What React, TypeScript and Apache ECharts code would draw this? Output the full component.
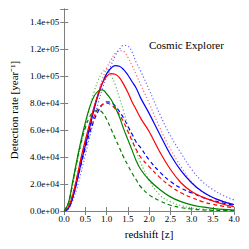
import React, { useEffect, useRef } from "react";
import * as echarts from "echarts";

const redshift = [0, 0.1, 0.2, 0.3, 0.4, 0.5, 0.6, 0.7, 0.8, 0.9, 1.0, 1.1, 1.2, 1.3, 1.4, 1.5, 1.6, 1.7, 1.8, 2.0, 2.25, 2.5, 2.75, 3.0, 3.25, 3.5, 3.75, 4.0];

const blueSolid = [0, 2000, 10000, 22000, 36000, 49000, 62000, 75000, 86000, 95000, 102000, 106000, 108000, 107500, 105000, 101000, 96000, 91000, 84000, 72500, 57000, 42000, 30000, 21000, 14400, 10000, 7000, 4800];
const blueDashed = [0, 2000, 10000, 22000, 35000, 47000, 58000, 67000, 74000, 79000, 81000, 80500, 78000, 74000, 69000, 63000, 57000, 51000, 47000, 38000, 29000, 22000, 17000, 13500, 10200, 7800, 5800, 4200];
const blueDotted = [0, 1500, 8000, 17000, 29000, 42000, 55000, 68000, 80000, 91000, 100000, 108000, 115000, 120000, 123000, 122500, 118000, 110000, 104000, 90000, 72000, 56000, 43000, 31000, 22000, 16000, 11500, 8200];

const redSolid = [0, 3000, 12000, 25000, 40000, 53000, 65000, 77000, 87000, 95000, 100000, 102000, 101500, 99000, 94000, 88000, 81000, 75000, 69000, 59000, 44000, 31000, 21000, 14500, 10500, 7500, 5000, 3300];
const redDashed = [0, 3000, 12000, 25000, 39000, 51000, 61000, 70000, 76000, 79000, 80000, 79000, 76000, 71500, 66000, 59000, 52000, 45500, 40000, 33000, 25000, 18500, 13500, 10000, 7000, 5000, 3500, 2500];
const redDotted = [0, 2500, 11000, 23000, 37000, 51000, 64000, 77000, 88000, 98000, 106000, 112000, 117000, 119000, 118500, 114000, 108000, 101000, 94000, 80000, 62000, 46000, 33000, 21500, 14400, 10000, 7000, 5000];

const greenSolid = [0, 6000, 22000, 38000, 53000, 66000, 77000, 85000, 89000, 90000, 87000, 83000, 77000, 70000, 61000, 53000, 45000, 37000, 31000, 23000, 16000, 10500, 7000, 4500, 3000, 2000, 1200, 700];
const greenDashed = [0, 6000, 21000, 37000, 51000, 62000, 70000, 74000, 75000, 73000, 68000, 61000, 54000, 47000, 40000, 34000, 28000, 23000, 18000, 12000, 7500, 4300, 2500, 1500, 900, 500, 300, 200];
const greenDotted = [0, 5000, 19000, 35000, 50000, 64000, 77000, 88000, 97000, 103000, 105000, 101000, 94000, 84000, 74000, 63000, 53000, 44000, 36000, 23000, 12000, 7000, 4000, 2300, 1400, 900, 600, 400];

const xTicks = [0, 0.5, 1.0, 1.5, 2.0, 2.5, 3.0, 3.5, 4.0];
const yMax = 150000;
const yStep = 20000;

const BLUE = "#0000ff";
const RED = "#ff0000";
const GREEN = "#008000";
const FONT = "Liberation Serif";

function fmtY(v: number): string {
  if (v > 145000) return "";
  const s = v.toExponential(1);
  return s.replace(/e([+-])(\d)$/, "e$10$2");
}

export default function App() {
  const ref = useRef<HTMLDivElement>(null);
  useEffect(() => {
    if (!ref.current) return;
    const chart = echarts.init(ref.current, undefined, { renderer: "svg" });
    const mk = (name: string, arr: number[], color: string, kind: string) => ({
      name,
      type: "line",
      xAxisIndex: 0,
      yAxisIndex: 0,
      data: redshift.map((z, i) => [z, arr[i]]),
      showSymbol: false,
      smooth: 0.4,
      lineStyle: {
        color,
        width: 1.2,
        type: kind === "solid" ? "solid" : kind === "dashed" ? [4, 3] : [1.2, 2.2],
        opacity: kind === "dotted" ? 0.6 : 1,
      },
      z: kind === "dotted" ? 1 : 2,
    });
    const axisLine = { show: true, lineStyle: { color: "#7f7f7f", width: 1 } };
    chart.setOption({
      animation: false,
      grid: { left: 62, right: 15, top: 9, bottom: 38, containLabel: false },
      xAxis: [
        {
          type: "value",
          min: 0,
          max: 4,
          interval: 0.5,
          position: "bottom",
          name: "redshift [z]",
          nameLocation: "middle",
          nameGap: 17,
          nameTextStyle: { fontFamily: FONT, fontSize: 11, color: "#000" },
          axisLine,
          axisTick: { show: true, inside: true, length: 4, lineStyle: { color: "#7f7f7f" } },
          axisLabel: {
            fontFamily: FONT,
            fontSize: 9,
            color: "#000",
            margin: 3,
            formatter: (v: number) => (xTicks.includes(v) ? v.toFixed(1) : ""),
          },
          splitLine: { show: false },
        },
        {
          type: "value",
          min: 0,
          max: 4,
          interval: 0.5,
          position: "top",
          axisLine,
          axisTick: { show: true, inside: true, length: 4, lineStyle: { color: "#7f7f7f" } },
          axisLabel: { show: false },
          splitLine: { show: false },
        },
      ],
      yAxis: [
        {
          type: "value",
          min: 0,
          max: yMax,
          interval: yStep,
          position: "left",
          name: "Detection rate [year⁻¹]",
          nameLocation: "middle",
          nameGap: 42,
          nameTextStyle: { fontFamily: FONT, fontSize: 11, color: "#000" },
          axisLine,
          axisTick: { show: true, inside: true, length: 4, lineStyle: { color: "#7f7f7f" } },
          axisLabel: { fontFamily: FONT, fontSize: 9, color: "#000", margin: 5, formatter: fmtY },
          splitLine: { show: false },
        },
        {
          type: "value",
          min: 0,
          max: yMax,
          interval: yStep,
          position: "right",
          axisLine,
          axisTick: { show: true, inside: true, length: 4, lineStyle: { color: "#7f7f7f" } },
          axisLabel: { show: false },
          splitLine: { show: false },
        },
      ],
      graphic: [
        {
          type: "text",
          left: 149,
          top: 39,
          style: { text: "Cosmic Explorer", fontFamily: FONT, fontSize: 11, fill: "#000" },
        },
      ],
      series: [
        mk("blue dotted", blueDotted, BLUE, "dotted"),
        mk("red dotted", redDotted, RED, "dotted"),
        mk("green dotted", greenDotted, GREEN, "dotted"),
        mk("blue dashed", blueDashed, BLUE, "dashed"),
        mk("red dashed", redDashed, RED, "dashed"),
        mk("green dashed", greenDashed, GREEN, "dashed"),
        mk("blue solid", blueSolid, BLUE, "solid"),
        mk("red solid", redSolid, RED, "solid"),
        mk("green solid", greenSolid, GREEN, "solid"),
      ],
    });
    return () => chart.dispose();
  }, []);
  return <div ref={ref} style={{ width: 249, height: 249, position: "absolute", left: 0, top: 0 }} />;
}
